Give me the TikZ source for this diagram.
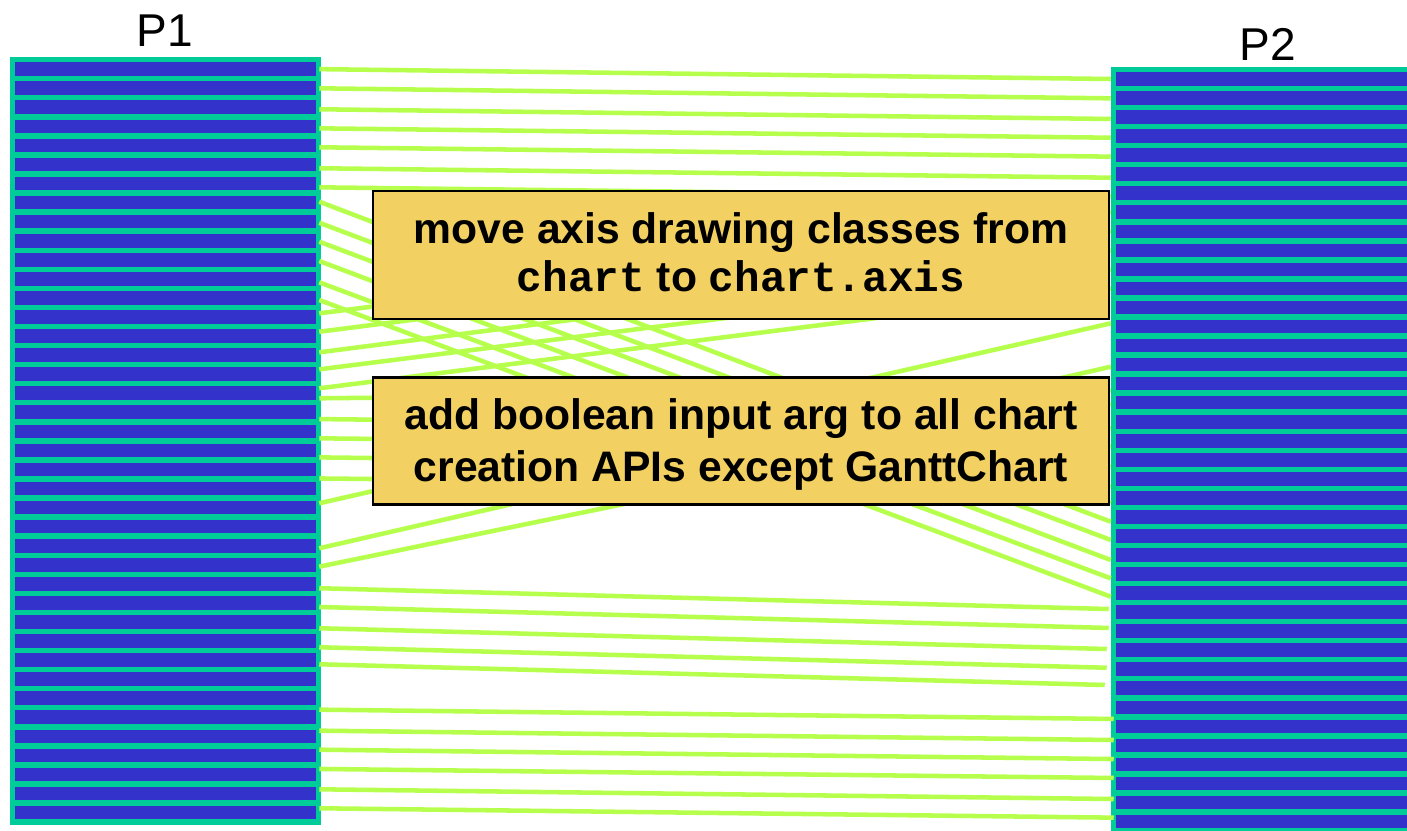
\documentclass[tikz,border=0pt]{standalone}
\usepackage{fontspec}
\setmainfont{Liberation Sans}
\newfontfamily\codefont{Liberation Mono}
\usetikzlibrary{calc}

\definecolor{columnteal}{RGB}{0,204,153}
\definecolor{barblue}{RGB}{51,51,204}
\definecolor{linkgreen}{RGB}{183,255,77}
\definecolor{notefill}{RGB}{242,209,98}

\begin{document}
\begin{tikzpicture}[x=0.75pt,y=-0.75pt,
  column/.style={fill=columnteal,draw=none},
  leftbar/.style={rectangle,fill=barblue,draw=none,inner sep=0pt,
    minimum width=225.75pt,minimum height=10.2pt},
  rightbar/.style={rectangle,fill=barblue,draw=none,inner sep=0pt,
    minimum width=228pt,minimum height=10.2pt},
  link/.style={draw=linkgreen,line width=3.4pt},
  note/.style={rectangle,fill=notefill,draw=black,line width=2.2pt,inner sep=0pt},
  notetext/.style={anchor=base,inner sep=0pt,
    font=\bfseries\fontsize{32}{38}\selectfont},
  title/.style={inner sep=0pt,font=\fontsize{34.5}{40}\selectfont}
]
\useasboundingbox (0,0) rectangle (1407,831);
\clip (0,0) rectangle (1407,831);
\fill[white] (0,0) rectangle (1407,831);

% the two columns of entries
\fill[column] (10,57) rectangle (321,824.8);
\fill[column] (1110.7,67.3) rectangle (1420,845);
\foreach \i in {1,...,40}{
  \node[leftbar]  (L\i) at (165.5,{69.15+(\i-1)*19.062}) {};
  \node[rightbar] (R\i) at (1268,{79.0+(\i-1)*19.04}) {};
}

\node[title] (p1) at (165,31) {P1};
\node[title] (p2) at (1268,44) {P2};

% correspondences between entries
\foreach \i/\a/\j/\b/\e in {
  1/0/1/0/-5, 2/0.1/2/0.3/-5, 3/2/3/1.9/-5, 4/2/4/1.6/-5,
  5/1.9/5/1.5/-5, 6/3.8/6/3.5/-5, 7/3.8/7/3.5/-5,
  8/-0.9/23/5.1/-5, 9/1.1/24/4.8/-5, 10/1/25/4/-5,
  11/1.25/26/5/-5, 12/3.5/27/4.3/-5, 13/2.1/28/3.6/-5,
  14/-3.6/8/-0.3/-5, 15/-4.3/9/-0.3/-5, 16/-2.75/10/0/-5,
  17/-4.8/11/0/-5, 18/-4.9/12/0/-5,
  18/5.1/17/6.4/-5, 19/6.8/19/6.6/-5, 20/7/20/6/-5,
  21/7/21/7/-5, 22/9/22/8/-5,
  24/-4.3/14/-3.2/-5, 26/2.55/16/2.1/-5, 27/1.9/18/1.3/-5,
  28/4.4/29/-3.1/-7, 29/4.1/30/-3.2/-7, 30/6.3/31/-1.2/-9,
  31/6.25/32/-1.5/-9, 32/4.2/33/-3.3/-11,
  35/-7.6/35/-7.4/-2, 36/-5.65/36/-5.4/-2, 37/-5.7/37/-5.4/-2,
  38/-5.5/38/-5.5/-2, 39/-4.2/39/-3.5/-2, 40/-4.3/40/-3.9/-2}{
  \draw[link] ($(L\i.east)+(3,\a)$) -- ($(R\j.west)+(\e,\b)$);
}

% notes laid over the correspondences
\node[note,minimum width=552pt,minimum height=96pt] (n1) at (741,255) {};
\node[note,minimum width=552pt,minimum height=95.2pt] (n2) at (741,441.25) {};

\node[notetext] (n1a) at (741,243.5) {move axis drawing classes from};
\node[notetext] (n1b) at (741,291.5) {{\codefont chart} to {\codefont chart.axis}};
\node[notetext] (n2a) at (741,429.5) {add boolean input arg to all chart};
\node[notetext] (n2b) at (741,481) {creation APIs except GanttChart};
\end{tikzpicture}
\end{document}
